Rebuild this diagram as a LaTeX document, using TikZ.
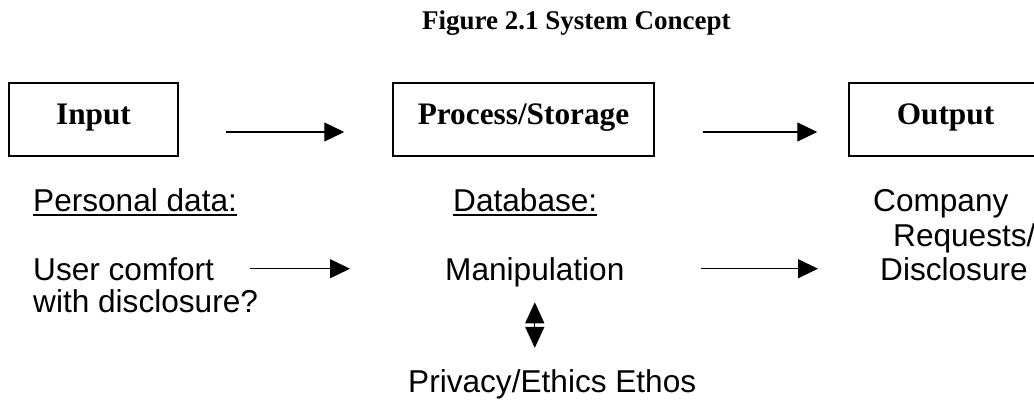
\documentclass[tikz,border=0pt]{standalone}
\usepackage{fontspec}
\setmainfont{Liberation Serif}
\newfontfamily\arial{Liberation Sans}
\usetikzlibrary{arrows.meta}

\begin{document}
\begin{tikzpicture}[x=1pt,y=-1pt,
  box/.style={draw, line width=1.5pt, minimum width=#1, minimum height=73pt, inner sep=0pt},
  boxlabel/.style={font=\fontsize{31.3}{36}\selectfont\bfseries, inner sep=0pt, anchor=base},
  body/.style={font=\arial\fontsize{31.6}{36}\selectfont, inner sep=0pt, anchor=base west},
  arr/.style={line width=1.3pt, -{Triangle[length=20pt,width=19pt]}},
  dblarr/.style={line width=1.3pt, {Triangle[length=21pt,width=19pt]}-{Triangle[length=21pt,width=19pt]}},
  uline/.style={line width=2pt}
]
\useasboundingbox (0,0) rectangle (1034,400);
\clip (0,0) rectangle (1034,400);

% heading
\node[font=\fontsize{27}{32}\selectfont\bfseries, inner sep=0pt, anchor=base west]
  (title) at (422,29) {Figure 2.1 System Concept};

% the three stages
\node[box=169pt] (input)  at (93.5,119.5)  {};
\node[box=261pt] (proc)   at (523.5,119.5) {};
\node[box=193pt] (output) at (945.5,119.5) {};
\node[boxlabel] (inputlbl)  at (93.5,124)  {Input};
\node[boxlabel] (proclbl)   at (523.5,124) {Process/Storage};
\node[boxlabel] (outputlbl) at (945.5,124) {Output};

\draw[arr, shorten <=47pt, shorten >=48pt]
  ([yshift=-12.5pt]input.east) -- ([yshift=-12.5pt]proc.west);
\draw[arr, shorten <=48pt, shorten >=31pt]
  ([yshift=-12.5pt]proc.east) -- ([yshift=-12.5pt]output.west);

% details under each stage
\node[body] (personal)   at (33,211)  {Personal data:};
\draw[uline] ([yshift=-4pt]personal.base west) -- ([yshift=-4pt]personal.base east);
\node[body] (database)   at (453,211) {Database:};
\draw[uline] ([yshift=-4pt]database.base west) -- ([yshift=-4pt]database.base east);
\node[body] (company)    at (873,211) {Company};
\node[body] (requests)   at (893,246) {Requests/};
\node[body] (disclosure) at (880,280) {Disclosure};
\node[body] (comfort)    at (33,280)  {User comfort};
\node[body] (withdisc)   at (33,312)  {with disclosure?};
\node[body] (manip)      at (445,280) {Manipulation};
\node[body] (ethos)      at (408,392) {Privacy/Ethics Ethos};

\draw[arr, shorten <=36pt, shorten >=95pt]
  (comfort.east) -- (comfort.east -| manip.west);
\draw[arr, shorten <=76pt, shorten >=62pt]
  (disclosure.west -| manip.east) -- (disclosure.west);
\draw[dblarr, shorten <=15.5pt, shorten >=21pt]
  (manip.south) -- (manip.south |- ethos.north);
\end{tikzpicture}
\end{document}
